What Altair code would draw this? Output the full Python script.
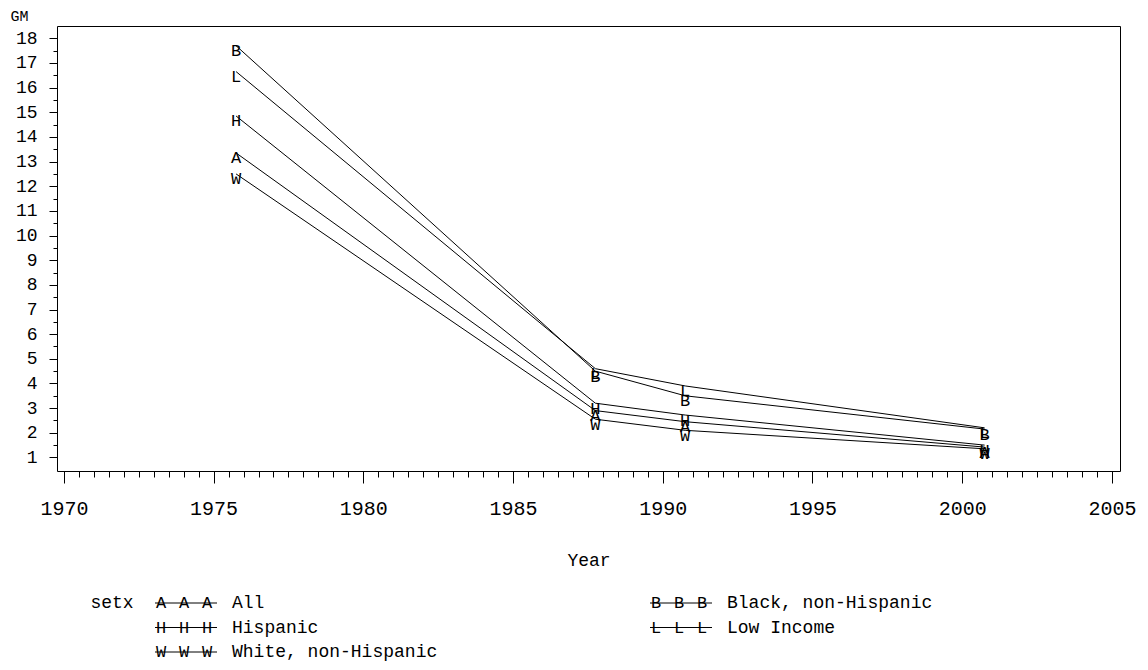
import altair as alt
import pandas as pd

# ---- data ----
years = [1975.75, 1987.75, 1990.75, 2000.75]
series_codes = ["A", "B", "H", "L", "W"]
series_labels = ["All", "Black, non-Hispanic", "Hispanic", "Low Income", "White, non-Hispanic"]
gm_A = [13.35, 2.9, 2.45, 1.42]
gm_B = [17.7, 4.5, 3.5, 2.15]
gm_H = [14.85, 3.2, 2.72, 1.5]
gm_L = [16.65, 4.6, 3.9, 2.2]
gm_W = [12.5, 2.55, 2.1, 1.35]

x_major = list(range(1970, 2006, 5))
x_minor = [1970 + 0.5 * i for i in range(71) if (i % 10) != 0]
y_major = list(range(1, 19))
y_minor = [v + 0.5 for v in range(1, 18)]

FONT = "Liberation Mono"

rows = []
for code, vals in zip(series_codes, [gm_A, gm_B, gm_H, gm_L, gm_W]):
    for yr, v in zip(years, vals):
        rows.append({"year": yr, "GM": v, "setx": code})
df = pd.DataFrame(rows)

leg = pd.DataFrame({
    "code": series_codes,
    "label": series_labels,
    "col": [i % 2 for i in range(len(series_codes))],
    "row": [i // 2 for i in range(len(series_codes))],
})

XD = [1969.77, 2005.27]
YD = [0.45, 18.5]


def xs():
    return alt.Scale(domain=XD, nice=False, zero=False)


def ys():
    return alt.Scale(domain=YD, nice=False, zero=False)


lines = alt.Chart(df).mark_line(color="black", strokeWidth=1).encode(
    x=alt.X("year:Q", scale=xs(), axis=alt.Axis(
        values=x_major, format="d", orient="bottom", tickSize=12, labelPadding=25,
        labelBaseline="middle", labelFontSize=20, title="Year", titleFontSize=18,
        titleY=89, titleBaseline="middle")),
    y=alt.Y("GM:Q", scale=ys(), axis=alt.Axis(
        values=y_major, format="d", orient="left", tickSize=8, labelPadding=12,
        labelFontSize=18, title="GM", titleAngle=0, titleAlign="left",
        titleBaseline="middle", titleX=-47, titleY=-11, titleFontSize=15)),
    detail="setx:N",
    order="year:Q",
)

minor = alt.Chart(df).mark_point(opacity=0).encode(
    x=alt.X("year:Q", scale=xs(), axis=alt.Axis(
        values=x_minor, orient="bottom", tickSize=6, labels=False, title=None)),
    y=alt.Y("GM:Q", scale=ys(), axis=alt.Axis(
        values=y_minor, orient="left", tickSize=4, labels=False, title=None)),
)

letters = alt.Chart(df).mark_text(font=FONT, fontSize=17, dy=5.5, color="black").encode(
    x=alt.X("year:Q", scale=xs(), axis=None),
    y=alt.Y("GM:Q", scale=ys(), axis=None),
    text="setx:N",
)

# ---- legend (own scales, placed below the plot) ----
lx = alt.Scale(domain=[0, 1], range=[98, 593])
ly = alt.Scale(domain=[0, 2], range=[577, 626])
lbase = alt.Chart(leg)
lenc = dict(x=alt.X("col:Q", scale=lx, axis=None), y=alt.Y("row:Q", scale=ly, axis=None))

leg_rule = lbase.mark_rule(color="black", strokeWidth=1, x2Offset=62).encode(
    x2="col:Q", **lenc)
leg_l1 = lbase.mark_text(font=FONT, fontSize=17, xOffset=6, color="black").encode(text="code:N", **lenc)
leg_l2 = lbase.mark_text(font=FONT, fontSize=17, xOffset=29, color="black").encode(text="code:N", **lenc)
leg_l3 = lbase.mark_text(font=FONT, fontSize=17, xOffset=52, color="black").encode(text="code:N", **lenc)
leg_txt = lbase.mark_text(font=FONT, fontSize=18, xOffset=77, align="left", color="black").encode(
    text="label:N", **lenc)
leg_title = alt.Chart(pd.DataFrame({"t": ["setx"]})).mark_text(
    font=FONT, fontSize=18, color="black").encode(
    text="t:N", x=alt.value(55), y=alt.value(577))

chart = alt.layer(
    lines, minor, letters, leg_rule, leg_l1, leg_l2, leg_l3, leg_txt, leg_title
).resolve_scale(x="independent", y="independent").resolve_axis(
    x="independent", y="independent"
).properties(
    width=1063, height=445,
    autosize=alt.AutoSizeParams(type="none"),
    padding={"left": 49, "top": 18, "right": 20, "bottom": 191},
).configure_view(stroke="black", strokeWidth=1).configure_axis(
    labelFont=FONT, titleFont=FONT, labelColor="black", titleColor="black",
    tickColor="black", titleFontWeight="normal", grid=False, domain=False,
)

chart.save("out.html", embed_options={"renderer": "svg", "actions": False})
